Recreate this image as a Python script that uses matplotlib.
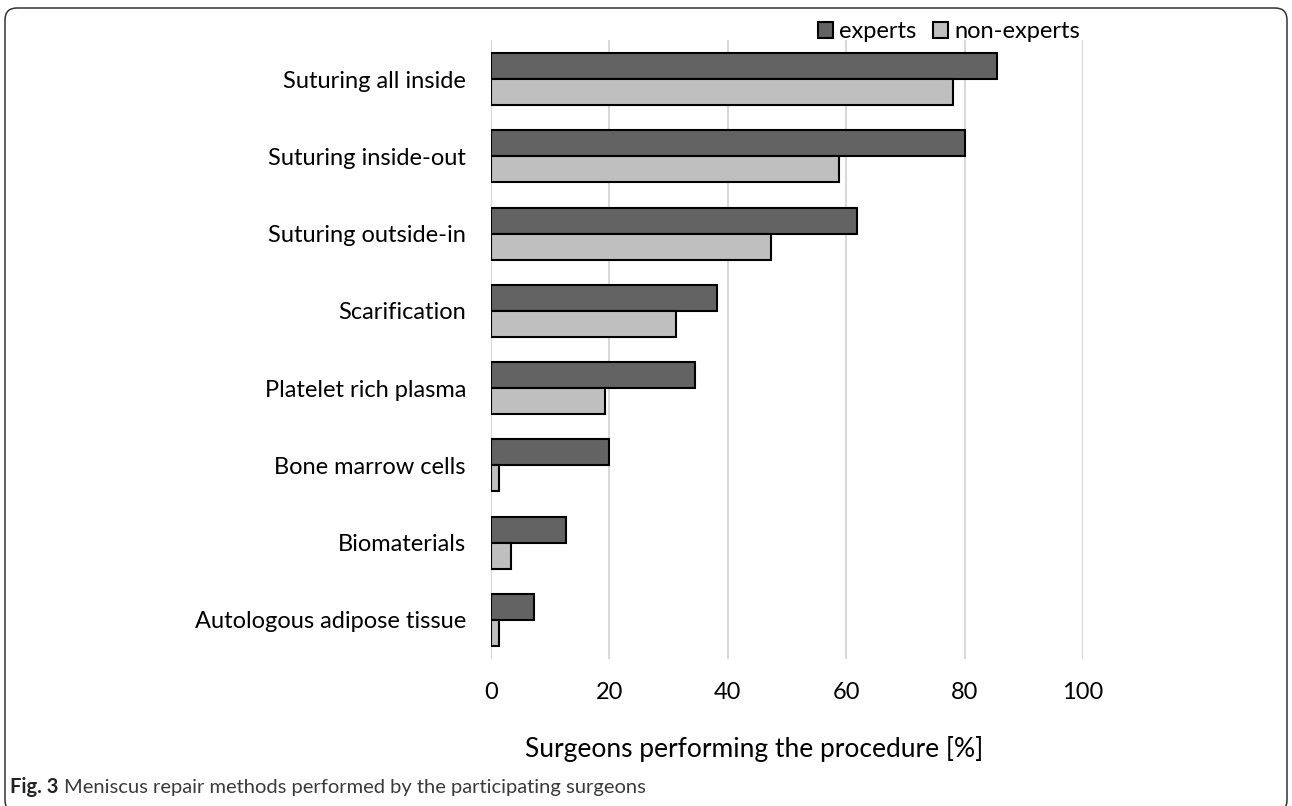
import numpy as np
import matplotlib
matplotlib.use("Agg")
import matplotlib.pyplot as plt
from matplotlib.patches import FancyBboxPatch
from matplotlib.transforms import IdentityTransform

plt.rcParams['font.family'] = ['Lato', 'DejaVu Sans']

methods = ['Suturing all inside', 'Suturing inside-out', 'Suturing outside-in',
           'Scarification', 'Platelet rich plasma', 'Bone marrow cells',
           'Biomaterials', 'Autologous adipose tissue']
experts = [85.5, 80.0, 61.8, 38.2, 34.5, 20.0, 12.7, 7.3]
non_experts = [78.0, 58.7, 47.3, 31.3, 19.3, 1.3, 3.3, 1.3]
xticks = [0, 20, 40, 60, 80, 100]

W, H = 1292, 806
fig = plt.figure(figsize=(W / 100, H / 100), dpi=100)
ax = fig.add_axes([491 / W, 1 - 658.6 / H, 592 / W, 618.2 / H])

y = np.arange(len(methods))
h = 0.336
ax.barh(y - h / 2, experts, height=h, color='#636363', edgecolor='black',
        linewidth=1.5, label='experts', zorder=3)
ax.barh(y + h / 2, non_experts, height=h, color='#bfbfbf', edgecolor='black',
        linewidth=1.5, label='non-experts', zorder=3)

ax.set_xlim(0, 100)
ax.set_ylim(len(methods) - 0.5, -0.5)
ax.set_xticks(xticks)
ax.set_yticks(y)
ax.set_yticklabels(methods)
ax.tick_params(axis='both', length=0, labelsize=17, colors='black')
ax.tick_params(axis='y', pad=18)
ax.tick_params(axis='x', pad=17)
ax.grid(axis='x', color='#d9d9d9', linewidth=1.5, zorder=0)
for s in ax.spines.values():
    s.set_visible(False)

fig.text(754 / W, 1 - 757 / H, 'Surgeons performing the procedure [%]',
         ha='center', va='baseline', fontsize=19)

fig.legend(loc='center right', bbox_to_anchor=(1080 / W, 1 - 32 / H),
           ncol=2, frameon=False, fontsize=17, borderpad=0, borderaxespad=0,
           handlelength=0.65, handleheight=0.65, handletextpad=0.25,
           columnspacing=0.7)

# caption below the chart
cap = fig.text(10 / W, 1 - 793 / H, 'Fig. 3', fontsize=14.5, fontweight='bold',
               ha='left', va='baseline', color='#222222')
fig.canvas.draw()
bb = cap.get_window_extent()
fig.text((bb.x1 + 6) / W, 1 - 793 / H,
         'Meniscus repair methods performed by the participating surgeons',
         fontsize=14.5, ha='left', va='baseline', color='#3a3a3a')

# rounded frame around the figure
frame = FancyBboxPatch((5, -6), 1282, 804, boxstyle='round,pad=0,rounding_size=12',
                       transform=IdentityTransform(), facecolor='none',
                       edgecolor='#333333', linewidth=1.1)
fig.patches.append(frame)

fig.savefig('out.png', dpi=100)
